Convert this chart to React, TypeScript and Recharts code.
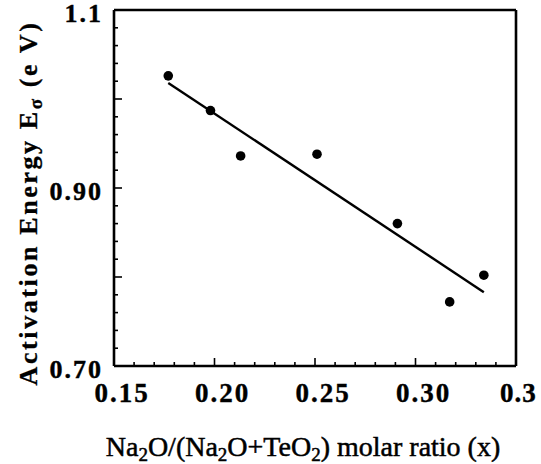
import React from 'react';
import { ComposedChart, Scatter, XAxis, YAxis, Label } from 'recharts';

// measured points (Na2O molar ratio x, activation energy in eV)
const molarRatio = [0.177, 0.198, 0.213, 0.251, 0.291, 0.317, 0.334];
const energy = [1.026, 0.987, 0.936, 0.938, 0.86, 0.772, 0.802];

// least squares line endpoints as drawn
const fitRatio = [0.177, 0.334];
const fitEnergy = [1.018, 0.783];

const xTicks = [0.15, 0.16, 0.17, 0.18, 0.19, 0.2, 0.21, 0.22, 0.23, 0.24, 0.25, 0.26, 0.27, 0.28, 0.29, 0.3, 0.31, 0.32, 0.33, 0.34, 0.35];
const xMajor = [0.15, 0.2, 0.25, 0.3, 0.35];
const xLabels = ['0.15', '0.20', '0.25', '0.30', '0.3'];

const yTicks = [0.7, 0.72, 0.74, 0.76, 0.78, 0.8, 0.82, 0.84, 0.86, 0.88, 0.9, 0.92, 0.94, 0.96, 0.98, 1.0, 1.02, 1.04, 1.06, 1.08, 1.1];
const yMajor = [0.7, 0.8, 0.9, 1.0, 1.1];
const yLabelVals = [0.7, 0.9, 1.1];
const yLabels = ['0.70', '0.90', '1.1'];

const points = molarRatio.map((x, i) => ({ x, y: energy[i] }));
const fitLine = fitRatio.map((x, i) => ({ x, y: fitEnergy[i] }));

const FONT = '"Liberation Serif", "Times New Roman", serif';
const near = (a: number, b: number) => Math.abs(a - b) < 1e-6;
const idxOf = (list: number[], v: number) => list.findIndex((m) => near(m, v));

const BottomTick = (props: any) => {
  const { x, y, payload } = props;
  const major = idxOf(xMajor, payload.value);
  const last = major === xMajor.length - 1;
  return (
    <g>
      <line x1={x} y1={y} x2={x} y2={y - (major >= 0 ? 8 : 4)} stroke="#000" strokeWidth={1.6} />
      {major >= 0 && (
        <text
          x={last ? x - 16 : x + 8}
          y={y + 36}
          textAnchor={last ? 'start' : 'middle'}
          fontFamily={FONT}
          fontWeight="bold"
          fontSize={27}
          letterSpacing={last ? 1 : 2}
          stroke="#000"
          strokeWidth={0.4}
          fill="#000"
        >
          {xLabels[major]}
        </text>
      )}
    </g>
  );
};

const TopTick = (props: any) => {
  const { x, y, payload } = props;
  const major = idxOf(xMajor, payload.value) >= 0;
  return <line x1={x} y1={y} x2={x} y2={y + (major ? 8 : 4)} stroke="#000" strokeWidth={1.6} />;
};

const LeftTick = (props: any) => {
  const { x, y, payload } = props;
  const major = idxOf(yMajor, payload.value) >= 0;
  const li = idxOf(yLabelVals, payload.value);
  return (
    <g>
      <line x1={x} y1={y} x2={x + (major ? 8 : 4)} y2={y} stroke="#000" strokeWidth={1.6} />
      {li >= 0 && (
        <text
          x={x - 11}
          y={y + 12}
          textAnchor="end"
          fontFamily={FONT}
          fontWeight="bold"
          fontSize={26}
          letterSpacing={2}
          stroke="#000"
          strokeWidth={0.4}
          fill="#000"
        >
          {yLabels[li]}
        </text>
      )}
    </g>
  );
};

const RightTick = (props: any) => {
  const { x, y, payload } = props;
  const major = idxOf(yMajor, payload.value) >= 0;
  return <line x1={x} y1={y} x2={x - (major ? 8 : 4)} y2={y} stroke="#000" strokeWidth={1.6} />;
};

const YTitle = (props: any) => {
  const { viewBox } = props;
  const cx = 37;
  const cy = viewBox.y + viewBox.height / 2 + 15;
  return (
    <text
      x={cx}
      y={cy}
      transform={`rotate(-90, ${cx}, ${cy})`}
      textAnchor="middle"
      fontFamily={FONT}
      fontWeight="bold"
      fontSize={26}
      letterSpacing={2.6}
      stroke="#000"
      strokeWidth={0.3}
      fill="#000"
    >
      Activation  Energy  E
      <tspan fontSize={19} dy={5}>σ</tspan>
      <tspan dy={-5}> (e V)</tspan>
    </text>
  );
};

const XTitle = (props: any) => {
  const { viewBox } = props;
  const cx = viewBox.x + viewBox.width / 2 - 12;
  const cy = viewBox.y + 90;
  return (
    <text
      x={cx}
      y={cy}
      textAnchor="middle"
      fontFamily={FONT}
      fontSize={28}
      stroke="#000"
      strokeWidth={0.5}
      fill="#000"
    >
      Na<tspan fontSize={19} dy={5}>2</tspan>
      <tspan dy={-5}>O/(Na</tspan>
      <tspan fontSize={19} dy={5}>2</tspan>
      <tspan dy={-5}>O+TeO</tspan>
      <tspan fontSize={19} dy={5}>2</tspan>
      <tspan dy={-5}>) molar  ratio (x)</tspan>
    </text>
  );
};

const axisStroke = { stroke: '#000', strokeWidth: 2.6 };

export default function App() {
  return (
    <div style={{ position: 'absolute', left: 0, top: 0, width: 541, height: 464, background: '#fff' }}>
      <ComposedChart width={541} height={464} margin={{ top: 0, right: 0, bottom: 0, left: 0 }}>
        <XAxis
          xAxisId="bottom"
          type="number"
          dataKey="x"
          domain={[0.15, 0.35]}
          ticks={xTicks}
          interval={0}
          height={98}
          axisLine={axisStroke}
          tickLine={false}
          tickSize={0}
          tickMargin={0}
          tick={<BottomTick />}
        >
          <Label content={<XTitle />} />
        </XAxis>
        <XAxis
          xAxisId="top"
          orientation="top"
          type="number"
          dataKey="x"
          domain={[0.15, 0.35]}
          ticks={xTicks}
          interval={0}
          height={10}
          axisLine={axisStroke}
          tickLine={false}
          tickSize={0}
          tickMargin={0}
          tick={<TopTick />}
        />
        <YAxis
          yAxisId="left"
          type="number"
          dataKey="y"
          domain={[0.7, 1.1]}
          ticks={yTicks}
          interval={0}
          width={114}
          axisLine={axisStroke}
          tickLine={false}
          tickSize={0}
          tickMargin={0}
          tick={<LeftTick />}
        >
          <Label content={<YTitle />} />
        </YAxis>
        <YAxis
          yAxisId="right"
          orientation="right"
          type="number"
          dataKey="y"
          domain={[0.7, 1.1]}
          ticks={yTicks}
          interval={0}
          width={25}
          axisLine={axisStroke}
          tickLine={false}
          tickSize={0}
          tickMargin={0}
          tick={<RightTick />}
        />
        <Scatter
          xAxisId="bottom"
          yAxisId="left"
          data={fitLine}
          line={{ stroke: '#000', strokeWidth: 2.4 }}
          shape={() => <g />}
          isAnimationActive={false}
        />
        <Scatter
          xAxisId="bottom"
          yAxisId="left"
          data={points}
          fill="#000"
          shape={(p: any) => <circle cx={p.cx} cy={p.cy} r={4.8} fill="#000" />}
          isAnimationActive={false}
        />
      </ComposedChart>
    </div>
  );
}
